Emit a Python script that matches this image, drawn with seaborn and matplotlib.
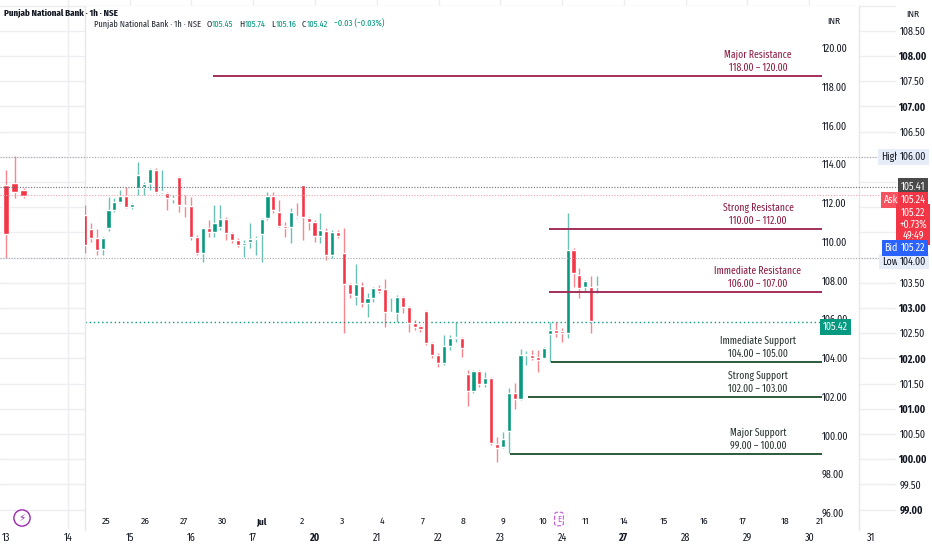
import numpy as np
import pandas as pd
import seaborn as sns
import matplotlib
matplotlib.use("Agg")
import matplotlib.pyplot as plt
import matplotlib.transforms as mtrans

sns.set_theme(style="white")
FONT = ["Fira Sans Condensed", "Roboto", "DejaVu Sans"]
NARROW = ["Fira Sans Extra Condensed", "Fira Sans Condensed", "DejaVu Sans"]
plt.rcParams["font.family"] = FONT
plt.rcParams["axes.unicode_minus"] = False

# ---------------- inner chart (1h candles) ----------------
opens = [111.38, 110.66, 110.19, 109.63, 110.71, 111.64, 112.05, 112.36, 111.79, 112.77,
         112.83, 113.03, 113.70, 112.57, 112.52, 112.21, 113.34, 111.90, 111.85, 110.25,
         109.42, 110.71, 110.50, 110.76, 111.17, 110.45, 110.09, 109.83, 109.99, 110.14,
         110.40, 111.23, 112.36, 111.54, 110.81, 110.76, 111.33, 112.93, 111.23, 111.02,
         110.30, 110.55, 109.32, 110.50, 109.42, 107.82, 107.20, 107.72, 106.84, 107.10,
         107.61, 107.56, 106.32, 106.32, 107.15, 106.63, 105.81, 105.65, 106.43, 104.77,
         104.15, 103.74, 104.62, 105.03, 105.03, 103.17, 102.30, 103.33, 102.66, 102.97,
         99.56, 99.41, 100.23, 102.19, 101.88, 104.15, 104.15, 104.05, 104.00, 105.24,
         105.44, 105.39, 105.29, 109.57, 108.28, 107.66, 107.66, 107.66]
closes = [109.83, 110.19, 109.57, 110.19, 111.64, 112.05, 112.36, 111.79, 111.95, 113.44,
          112.98, 113.75, 112.57, 112.62, 112.26, 112.26, 111.90, 111.85, 110.25, 109.42,
          110.71, 110.50, 110.97, 111.17, 110.45, 110.09, 109.83, 109.94, 110.14, 110.19,
          111.17, 112.36, 111.64, 110.81, 110.71, 111.54, 111.28, 111.28, 111.02, 110.30,
          110.61, 109.32, 110.50, 110.30, 107.82, 107.30, 107.82, 106.84, 107.10, 107.61,
          107.46, 106.37, 106.37, 107.15, 106.63, 105.81, 105.60, 105.50, 104.77, 104.15,
          103.74, 104.62, 105.03, 105.08, 104.52, 102.30, 103.33, 102.66, 102.97, 99.61,
          99.35, 99.82, 102.19, 101.88, 104.15, 104.21, 104.00, 103.90, 104.52, 105.44,
          105.29, 105.29, 109.57, 108.39, 107.61, 107.97, 105.91, 107.72]
highs = [111.90, 110.97, 110.66, 110.25, 112.31, 112.26, 112.67, 112.83, 112.00, 114.12,
         113.08, 113.81, 113.81, 113.70, 112.57, 112.41, 113.39, 112.41, 112.31, 110.35,
         110.71, 111.12, 111.90, 111.90, 111.28, 110.50, 110.19, 110.09, 110.97, 110.30,
         111.23, 112.57, 112.57, 112.15, 111.02, 111.74, 112.00, 112.93, 111.28, 111.12,
         111.48, 110.71, 110.61, 110.61, 110.71, 107.87, 108.85, 107.92, 107.35, 107.66,
         107.77, 108.08, 107.10, 107.25, 107.20, 106.68, 105.96, 105.70, 106.48, 104.82,
         104.26, 105.19, 105.19, 105.86, 105.08, 103.38, 103.38, 103.38, 103.28, 103.02,
         99.92, 100.18, 102.45, 102.71, 104.46, 104.36, 104.41, 104.41, 104.57, 105.86,
         105.86, 105.55, 111.48, 109.68, 108.64, 108.03, 108.23, 108.23]
lows = [109.42, 109.99, 109.32, 109.32, 110.55, 111.54, 112.00, 111.74, 111.69, 112.41,
        112.41, 112.67, 112.52, 112.52, 111.64, 112.00, 111.54, 111.28, 110.09, 109.32,
        108.95, 110.25, 110.25, 110.61, 110.09, 109.94, 109.73, 109.21, 109.68, 109.32,
        108.95, 111.12, 111.48, 110.76, 110.25, 109.94, 111.23, 110.09, 110.61, 109.99,
        109.94, 109.06, 109.16, 110.19, 105.29, 107.10, 106.74, 106.63, 106.12, 106.89,
        107.35, 105.60, 106.32, 105.86, 106.32, 105.34, 105.44, 105.34, 104.67, 104.00,
        103.53, 103.64, 104.41, 104.82, 104.05, 101.52, 102.19, 102.50, 102.50, 99.51,
        98.63, 99.35, 99.10, 101.37, 101.83, 103.64, 103.90, 103.28, 104.00, 103.79,
        105.08, 104.82, 105.03, 107.66, 107.10, 107.41, 105.29, 107.35]

inner_day_labels = ["25", "26", "27", "30", "Jul", "2", "3", "4", "7", "8", "9", "10",
                    "11", "14", "15", "16", "17", "18", "21"]
inner_day_pos = [3.6, 10.2, 16.8, 23.3, 29.9, 36.9, 43.7, 50.5, 57.4, 64.2, 71.0, 77.8,
                 85.0, 91.6, 98.4, 105.2, 111.8, 118.9, 124.9]
inner_price_ticks = [96, 98, 100, 102, 104, 106, 108, 110, 112, 114, 116, 118, 120]

zone_names = ["Major Resistance", "Strong Resistance", "Immediate Resistance",
              "Immediate Support", "Strong Support", "Major Support"]
zone_ranges = ["118.00 – 120.00", "110.00 – 112.00", "106.00 – 107.00",
               "104.00 – 105.00", "102.00 – 103.00", "99.00 – 100.00"]
zone_levels = [118.55, 110.66, 107.41, 103.79, 101.99, 99.05]
zone_start = [21.8, 78.8, 78.8, 79.2, 75.3, 72.2]
zone_kind = ["res", "res", "res", "sup", "sup", "sup"]
zone_end = 125.2

header_name = "Punjab National Bank · 1h · NSE"
ohlc_letters = ["O", "H", "L", "C"]
ohlc_values = ["105.45", "105.74", "105.16", "105.42"]
ohlc_change = "−0.03 (−0.03%)"
inner_last_line = 105.85
inner_last_label = "105.42"

# ---------------- outer chart ----------------
outer_open = [105.44, 105.48, 105.34]
outer_close = [104.47, 105.30, 105.22]
outer_high = [105.74, 106.02, 105.38]
outer_low = [103.99, 105.18, 105.18]
outer_hour = [0, 1, 2]
outer_day_labels = ["13", "14", "15", "16", "17", "20", "21", "22", "23", "24",
                    "27", "28", "29", "30", "31"]
outer_bold_days = ["20", "27"]
outer_price_ticks = [99.0, 99.5, 100.0, 100.5, 101.0, 101.5, 102.0, 102.5, 103.0, 103.5,
                     104.0, 105.5, 106.0, 106.5, 107.0, 107.5, 108.0, 108.5]
outer_grid_levels = list(np.arange(99.0, 109.01, 0.5))
outer_high_val, outer_low_val = 106.00, 104.00
outer_last, outer_ask, outer_bid = 105.41, 105.24, 105.22
outer_change, outer_timer = "+0.73%", "49:49"

GREEN = "#089981"
RED = "#f23645"
RES_LINE = "#a3305a"
RES_TEXT = "#8c1d45"
SUP_LINE = "#2b5a3a"
SUP_TEXT = "#2b3630"
TXT = "#131722"
FS = 7.2

W, H = 932, 550
fig = plt.figure(figsize=(W / 100, H / 100), dpi=100)
fig.patch.set_facecolor("white")


def rect(l, t, r, b):
    return [l / W, 1 - b / H, (r - l) / W, (b - t) / H]


# ---------- background (outer) axes ----------
ax_bg = fig.add_axes([0, 0, 1, 1], zorder=0)
ax_bg.set_facecolor("white")
ax_bg.set_xlim(-0.097, 14.987)
ax_bg.set_ylim(98.198, 109.111)
for s in ax_bg.spines.values():
    s.set_visible(False)
for lv in outer_grid_levels:
    ax_bg.axhline(lv, xmin=0, xmax=895 / W, color="#eceef2", lw=1, zorder=0)
outer_day_pos = np.arange(len(outer_day_labels))
for d in outer_day_pos[1:-1]:
    ax_bg.axvline(d, ymin=22 / H, ymax=1, color="#eceef2", lw=1, zorder=0)
ax_bg.set_yticks([])
ax_bg.set_xticks(outer_day_pos, outer_day_labels)
ax_bg.tick_params(axis="x", length=0, pad=-12.5, labelsize=FS, labelcolor=TXT)
for t in ax_bg.get_xticklabels():
    if t.get_text() in outer_bold_days:
        t.set_fontweight("bold")

ox = np.array(outer_hour) / 7.0
oo, oc = np.array(outer_open), np.array(outer_close)
ocol = np.where(oc >= oo, GREEN, RED)
ax_bg.vlines(ox, outer_low, outer_high, colors=ocol, lw=1, alpha=0.6, zorder=2)
ax_bg.bar(ox, np.maximum(np.abs(oc - oo), 0.03), bottom=np.minimum(oo, oc),
          width=0.11, color=ocol, zorder=3)

# ---------- inner panel ----------
ax_in = fig.add_axes(rect(85, 6, 859, 530), zorder=2)
ax_in.set_facecolor("white")
ax_in.set_xlim(0, 131.5)
ax_in.set_ylim(95.12, 122.17)
for k, s in ax_in.spines.items():
    s.set_visible(k in ("left", "right"))
    s.set_color("#e6e8ee")
    s.set_linewidth(1)

df = pd.DataFrame({"open": opens, "high": highs, "low": lows, "close": closes})
df["idx"] = np.arange(len(df))
cols = np.where(df["close"] >= df["open"], GREEN, RED)
ax_in.vlines(df["idx"], df["low"], df["high"], colors=cols, lw=1, alpha=0.6, zorder=3)
ax_in.bar(df["idx"], np.maximum((df["close"] - df["open"]).abs(), 0.07),
          bottom=np.minimum(df["open"], df["close"]), width=0.7, color=cols, zorder=4)

ax_in.yaxis.tick_right()
ax_in.set_yticks(inner_price_ticks, [f"{v:.2f}" for v in inner_price_ticks])
ax_in.tick_params(axis="y", length=0, pad=-26.6, labelsize=FS, labelcolor=TXT)
ax_in.set_xticks(inner_day_pos, inner_day_labels)
ax_in.tick_params(axis="x", length=0, pad=-9.5, labelsize=6.9, labelcolor=TXT)
for t in ax_in.get_xticklabels():
    if t.get_text() == "Jul":
        t.set_fontweight("bold")

blend_in = mtrans.blended_transform_factory(ax_in.transAxes, ax_in.transData)
for name, rng, lv, st, kind in zip(zone_names, zone_ranges, zone_levels, zone_start, zone_kind):
    lc = RES_LINE if kind == "res" else SUP_LINE
    tc = RES_TEXT if kind == "res" else SUP_TEXT
    ax_in.hlines(lv, st, zone_end, color=lc, lw=1.4, zorder=5)
    ax_in.annotate(name, xy=(0.8695, lv), xycoords=blend_in, xytext=(0, 15.1),
                   textcoords="offset points", ha="center", va="center",
                   fontsize=7.5, color=tc, zorder=6, family=NARROW)
    ax_in.annotate(rng, xy=(0.8695, lv), xycoords=blend_in, xytext=(0, 6.1),
                   textcoords="offset points", ha="center", va="center",
                   fontsize=7.5, color=tc, zorder=6, family=NARROW)

ax_in.hlines(inner_last_line, 0, zone_end, color=GREEN, lw=1, ls=(0, (1, 2)), zorder=2)
ax_in.text(0.9535, inner_last_line - 0.25, inner_last_label, transform=blend_in,
           ha="left", va="center", fontsize=FS, color="white", zorder=7,
           bbox=dict(boxstyle="square,pad=0.3", fc=GREEN, ec="none"))
ax_in.text(0.9677, 0.9714, "INR", transform=ax_in.transAxes, ha="center", va="center",
           fontsize=6.8, color=TXT)
ax_in.text(0.6124, 0.021, "E", transform=ax_in.transAxes, ha="center", va="center",
           fontsize=6.5, color="#c158dc", zorder=8,
           bbox=dict(boxstyle="round,pad=0.25", fc="white", ec="#c158dc", ls="--", lw=0.8))

# header line with chained pieces
HFS = 6.6
t = ax_in.text(0.0116, 0.9656, header_name, transform=ax_in.transAxes, ha="left",
               va="center", fontsize=HFS, color="#2a2e39", zorder=8, family=NARROW)
for let, val in zip(ohlc_letters, ohlc_values):
    t = ax_in.annotate(let, xy=(1, 0.5), xycoords=t, xytext=(4, 0), textcoords="offset points",
                       ha="left", va="center", fontsize=HFS, color="#2a2e39", family=NARROW)
    t = ax_in.annotate(val, xy=(1, 0.5), xycoords=t, xytext=(0.3, 0), textcoords="offset points",
                       ha="left", va="center", fontsize=HFS, color=GREEN, family=NARROW)
ax_in.annotate(ohlc_change, xy=(1, 0.5), xycoords=t, xytext=(4, 0), textcoords="offset points",
               ha="left", va="center", fontsize=HFS, color=GREEN, family=NARROW)

# ---------- overlay (outer scale) ----------
ax_ov = fig.add_axes([0, 0, 1, 1], zorder=3)
ax_ov.patch.set_alpha(0)
ax_ov.set_xlim(ax_bg.get_xlim())
ax_ov.set_ylim(ax_bg.get_ylim())
for s in ax_ov.spines.values():
    s.set_visible(False)
ax_ov.set_xticks([])
ax_ov.yaxis.tick_right()
ax_ov.set_yticks(outer_price_ticks, [f"{v:.2f}" for v in outer_price_ticks])
ax_ov.tick_params(axis="y", length=0, pad=-23.5, labelsize=FS, labelcolor=TXT)
for tl, v in zip(ax_ov.get_yticklabels(), outer_price_ticks):
    if float(v).is_integer():
        tl.set_fontweight("bold")

ax_ov.axhline(outer_high_val, xmax=880 / W, color="#a3a6af", lw=0.8, ls=(0, (1, 1.5)))
ax_ov.axhline(outer_low_val, xmax=880 / W, color="#a3a6af", lw=0.8, ls=(0, (1, 1.5)))
ax_ov.axhline(outer_last, xmax=900 / W, color="#6a6d78", lw=0.8, ls=(0, (1, 1.5)))
ax_ov.axhline(outer_ask, xmax=885 / W, color="#f2a3aa", lw=0.8, ls=(0, (1, 1.5)))

blend_ov = mtrans.blended_transform_factory(fig.transFigure, ax_ov.transData)


def tag(x_px, y, s, fc, tc, ha="center", fs=FS, pad=0.25, ls=1.0):
    ax_ov.text(x_px / W, y, s, transform=blend_ov, ha=ha, va="center", fontsize=fs,
               color=tc, zorder=10, linespacing=ls,
               bbox=dict(boxstyle=f"square,pad={pad}", fc=fc, ec="none"))


tag(890, outer_high_val, "High", "#e6edf8", TXT)
tag(913, outer_high_val, f"{outer_high_val:.2f}", "#e6edf8", TXT)
tag(890, outer_low_val - 0.08, "Low", "#e6edf8", TXT)
tag(913, outer_low_val - 0.08, f"{outer_low_val:.2f}", "#e6edf8", TXT)
tag(913, outer_last, f"{outer_last:.2f}", "#4a4a4a", "white", pad=0.3)
tag(891, outer_ask - 0.1, "Ask", "#f7525f", "white")
tag(913, outer_ask - 0.1, f"{outer_ask:.2f}", RED, "white")
tag(913, 104.66, f"{outer_bid:.2f}\n{outer_change}\n{outer_timer}", RED, "white",
    pad=0.35, ls=1.15)
tag(891, 104.19, "Bid", "#2962ff", "white")
tag(913, 104.19, f"{outer_bid:.2f}", "#2962ff", "white")

ax_ov.text(913 / W, 1 - 14 / H, "INR", transform=fig.transFigure, ha="center",
           va="center", fontsize=6.8, color=TXT)
ax_ov.text(4 / W, 1 - 13 / H, header_name, transform=fig.transFigure, ha="left",
           va="center", fontsize=7.0, color=TXT, fontweight="bold", family=NARROW)
ax_ov.text(22 / W, 1 - 518 / H, "⚡", transform=fig.transFigure, ha="center",
           va="center", fontsize=7.5, color="#9c27b0", family=["DejaVu Sans"],
           bbox=dict(boxstyle="circle,pad=0.3", fc="white", ec="#9c27b0", lw=1))

fig.savefig("out.png", dpi=100, facecolor="white")
